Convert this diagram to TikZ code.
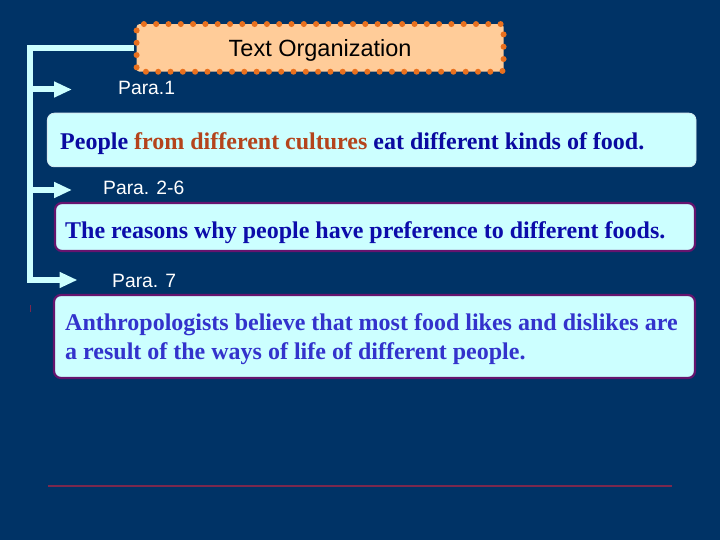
\documentclass[tikz,border=0pt]{standalone}
\usepackage{fontspec}
\setmainfont{Liberation Serif}
\newfontfamily\arialf{Liberation Sans}
\usetikzlibrary{arrows.meta}
\definecolor{bgnavy}{RGB}{0,51,102}
\definecolor{brk}{RGB}{204,255,255}
\definecolor{boxfill}{RGB}{204,255,255}
\definecolor{peach}{RGB}{255,204,153}
\definecolor{dotor}{RGB}{232,112,30}
\definecolor{boxedge}{RGB}{102,20,110}
\definecolor{txtA}{RGB}{10,10,160}
\definecolor{txtB}{RGB}{180,68,28}
\definecolor{txtC}{RGB}{12,12,170}
\definecolor{txtD}{RGB}{51,51,204}
\definecolor{rule}{RGB}{122,40,78}
\tikzset{
  titlebox/.style={draw=dotor, fill=peach, line width=6pt, dash pattern=on 0pt off 12.3pt, line cap=round, rounded corners=3pt, inner sep=0pt},
  contentbox/.style={fill=boxfill, draw=boxedge, line width=2.2pt, rounded corners=7pt, inner sep=0pt},
  plainbox/.style={fill=boxfill, draw={rgb,255:red,215;green,235;blue,240}, line width=0.8pt, rounded corners=7pt, inner sep=0pt},
  paralabel/.style={font=\arialf\fontsize{19.3}{21}\selectfont, text=white, anchor=base west, inner sep=0pt},
  bodytext/.style={font=\bfseries\fontsize{24}{29}\selectfont, anchor=base west, inner sep=0pt, align=left},
  bracket/.style={draw=brk, line width=6pt, line join=miter},
  brarrow/.style={bracket, -{Triangle[length=18pt,width=15pt]}}
}
\begin{document}
\begin{tikzpicture}[x=1pt,y=-1pt]
\fill[bgnavy] (0,0) rectangle (720,540);
\useasboundingbox (0,0) rectangle (720,540);
% boxes
\node[titlebox, minimum width=367pt, minimum height=47.7pt, text height=16.8pt, text depth=0pt,
      font=\arialf\fontsize{23.5}{25}\selectfont] (title) at (320.1,47.9) {Text Organization};
\node[plainbox, minimum width=648.7pt, minimum height=53.7pt] (b1) at (371.7,140) {};
\node[contentbox, minimum width=640pt, minimum height=48pt] (b2) at (375,227) {};
\node[contentbox, minimum width=641pt, minimum height=83pt] (b3) at (374.5,336.5) {};
% texts
\node[bodytext] (t1) at (60,150) {\textcolor{txtA}{People} \textcolor{txtB}{from different cultures} \textcolor{txtA}{eat different kinds of food.}};
\node[bodytext, text=txtC] (t2) at (65,238) {The reasons why people have preference to different foods.};
\node[bodytext, text=txtD] (t3) at (65,359) {Anthropologists believe that most food likes and dislikes are\\a result of the ways of life of different people.};
% para labels
\node[paralabel] (p1) at (118,95) {Para.1};
\node[paralabel] (p2) at (103,195) {Para. 2-6};
\node[paralabel] (p3) at (112,287) {Para. 7};
% bracket
\coordinate (c0) at (30,48);
\coordinate (j1) at (30,89.5);
\coordinate (j2) at (30,190);
\coordinate (a1) at (72,89.5);
\coordinate (a2) at (72,190);
\coordinate (a3) at (77.5,280);
\draw[brarrow] (title.west |- c0) -- (c0) -- (30,280) -- (a3);
\draw[brarrow] (j1) -- (a1);
\draw[brarrow] (j2) -- (a2);
% small mark
\draw[rule, line width=1pt] (30,305) -- (30,312);
% bottom rule
\coordinate (r1) at (48,486);
\coordinate (r2) at (672,486);
\draw[rule, line width=1.6pt] (r1) -- (r2);
\end{tikzpicture}
\end{document}
